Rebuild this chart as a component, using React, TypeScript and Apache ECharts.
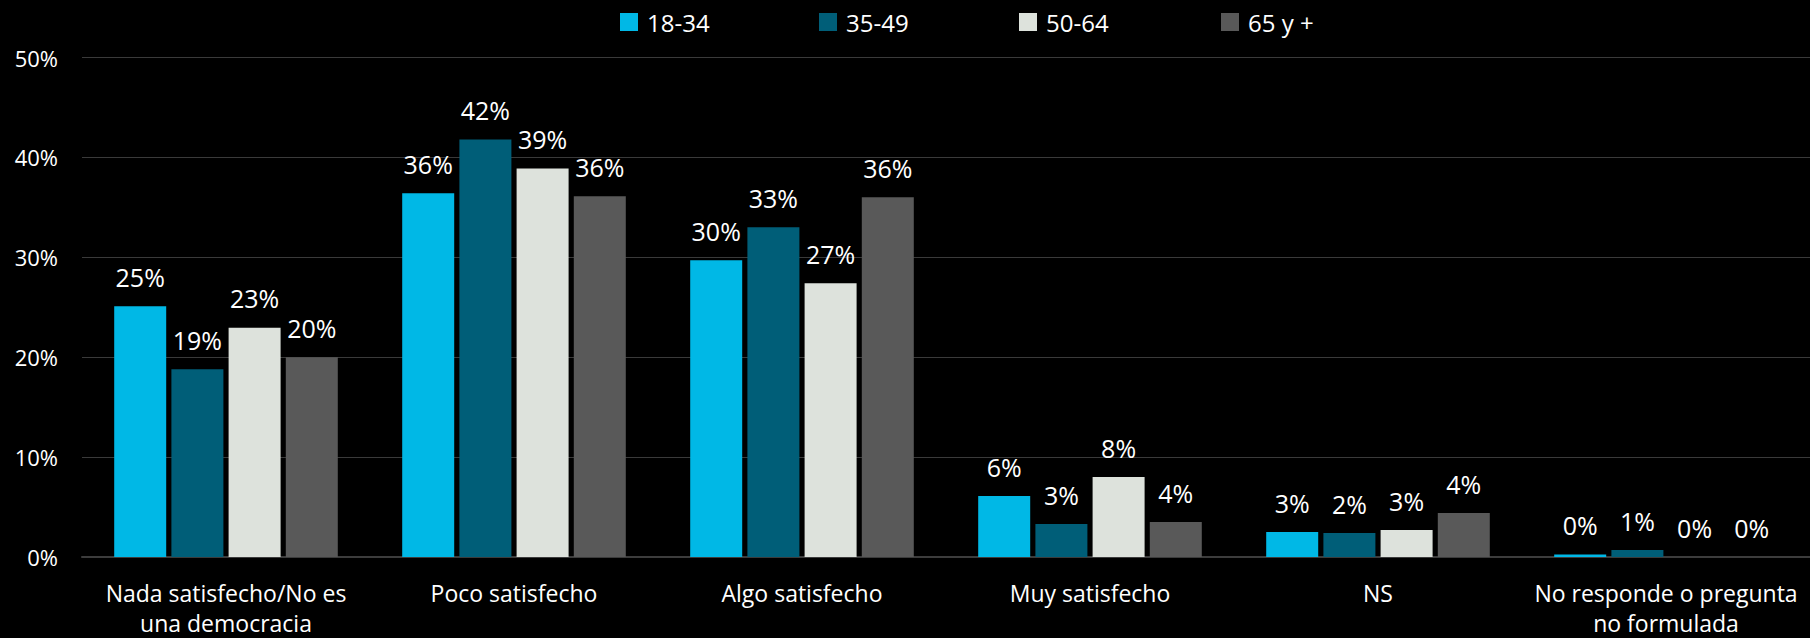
import React, { useEffect, useRef } from "react";
import * as echarts from "echarts";

const categories = [
  "Nada satisfecho/No es\nuna democracia",
  "Poco satisfecho",
  "Algo satisfecho",
  "Muy satisfecho",
  "NS",
  "No responde o pregunta\nno formulada",
];
const seriesNames = ["18-34", "35-49", "50-64", "65 y +"];
const values18_34 = [25.1, 36.4, 29.7, 6.1, 2.5, 0.25];
const values35_49 = [18.8, 41.8, 33.0, 3.3, 2.4, 0.7];
const values50_64 = [22.95, 38.9, 27.4, 8.0, 2.7, 0];
const values65 = [20.0, 36.1, 36.0, 3.5, 4.4, 0];
const seriesValues = [values18_34, values35_49, values50_64, values65];
const colors = ["#00B8E6", "#005E78", "#DDE2DC", "#595959"];
const yTicks = { min: 0, max: 50, interval: 10 };
const legendLeft = [620, 819, 1019, 1221];

const FONT = "'Open Sans', 'Noto Sans', sans-serif";

export default function App() {
  const ref = useRef<HTMLDivElement>(null);
  useEffect(() => {
    if (!ref.current) return;
    const chart = echarts.init(ref.current, null, { renderer: "svg" });
    chart.setOption({
      animation: false,
      backgroundColor: "#000000",
      textStyle: { fontFamily: FONT },
      legend: seriesNames.map((n, i) => ({
        data: [n],
        left: legendLeft[i],
        top: 10,
        padding: 0,
        itemWidth: 18,
        itemHeight: 18,
        icon: "rect",
        textStyle: { color: "#ffffff", fontSize: 24, fontFamily: FONT, padding: [0, 0, 0, 4] },
      })),
      grid: { left: 82, right: -9, top: 57.5, bottom: 78, containLabel: false },
      xAxis: {
        type: "category",
        data: categories,
        axisLine: { show: true, lineStyle: { color: "#3c3c3c", width: 2 } },
        axisTick: { show: false },
        axisLabel: {
          interval: 0,
          color: "#ffffff",
          fontSize: 23,
          lineHeight: 30,
          margin: 21,
          fontFamily: FONT,
        },
      },
      yAxis: {
        type: "value",
        min: yTicks.min,
        max: yTicks.max,
        interval: yTicks.interval,
        axisLine: { show: false },
        axisTick: { show: false },
        splitLine: { lineStyle: { color: "#3a3a3a", width: 1 } },
        axisLabel: {
          formatter: "{value}%",
          color: "#ffffff",
          fontSize: 22,
          margin: 24,
          fontFamily: FONT,
        },
      },
      series: seriesNames.map((n, i) => ({
        name: n,
        type: "bar",
        data: seriesValues[i],
        barWidth: 52,
        barGap: "10%",
        itemStyle: { color: colors[i] },
        label: {
          show: true,
          position: "top",
          distance: 17,
          color: "#ffffff",
          fontSize: 25,
          fontFamily: FONT,
          formatter: (p: any) => Math.round(p.value) + "%",
        },
      })),
    });
    return () => chart.dispose();
  }, []);
  return (
    <div
      ref={ref}
      style={{ position: "fixed", left: 0, top: 0, width: 1810, height: 638, background: "#000" }}
    />
  );
}
